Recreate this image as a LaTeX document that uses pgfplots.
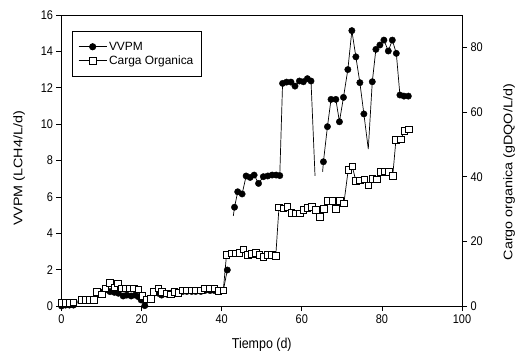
\documentclass[border=0pt]{standalone}
\usepackage{pgfplots}
\pgfplotsset{compat=1.18}
\usepackage{fontspec}
\setmainfont{Liberation Sans}

\pgfplotsset{
  common/.style={
    at={(0bp,0bp)}, anchor=south west,
    scale only axis, width=400.5bp, height=291bp,
    xmin=0, xmax=100,
    tick align=outside,
    major tick length=5bp,
    tick style={black, line width=0.7bp},
    axis line style={black, line width=0.8bp},
    /pgf/number format/assume math mode=true,
    tick label style={font=\fontsize{11}{13}\selectfont, yscale=1.15},
    label style={font=\fontsize{12.5}{14}\selectfont},
  }
}

\begin{document}
\begin{tikzpicture}[x=1bp,y=1bp]
\useasboundingbox (-61.5bp,-48bp) rectangle (454.5bp,306bp);

\begin{axis}[common,
  ymin=0, ymax=16,
  xtick={0,20,40,60,80,100},
  ytick={0,2,4,6,8,10,12,14,16},
  xtick pos=bottom, ytick pos=left,
  xlabel={Tiempo (d)},
  ylabel={VVPM (LCH4/L/d)},
  x label style={at={(axis description cs:0.5,-0.134)}, anchor=center, yscale=1.15},
  y label style={at={(axis description cs:-0.106,0.473)}, anchor=center, xscale=1.15},
]
% VVPM line (with unmarked end points and gaps)
\addplot[black, line width=0.7bp, no marks, unbounded coords=jump, forget plot] coordinates {
(0,0.0) (1,0.05) (2,0.05) (3,0.05) (5.0,0.3) (6.0,0.3) (7.0,0.3) (8.1,0.3)
(8.8,0.70) (10.0,0.75) (10.9,0.88) (12.1,0.79) (13.2,0.75) (14.2,0.70) (15.4,0.55)
(16.3,0.60) (17.4,0.55) (18.4,0.60) (19.2,0.51) (19.9,0.33) (20.8,0.02) (22.5,0.42)
(24.2,0.70) (25.0,0.60) (26.3,0.65) (27.3,0.70) (28.2,0.75) (29.2,0.75) (30.3,0.80)
(31.3,0.80) (32.5,0.80) (33.5,0.80) (34.8,0.80) (35.8,0.85) (37.1,0.85) (38.2,0.85)
(39.2,0.80) (40.4,0.85) (41.4,1.98) (42.2,nan)
(42.9,4.95) (43.2,5.43) (44.0,6.28) (45.1,6.16) (46.1,7.15) (47.1,7.07) (48.1,7.20)
(49.2,6.74) (50.4,7.11) (51.5,7.15) (52.6,7.20) (53.6,7.20) (54.5,7.17) (55.2,12.24)
(56.2,12.31) (57.3,12.31) (58.3,12.09) (59.4,12.37) (60.4,12.33) (61.4,12.50) (62.3,12.37)
(63.3,7.16) (64.2,nan)
(65.2,7.38) (65.4,7.93) (66.4,9.86) (67.3,11.36) (68.5,11.36) (69.4,10.13) (70.4,11.47)
(71.5,13.00) (72.5,15.14) (73.5,13.70) (74.5,12.28) (75.5,10.56) (76.6,8.63) (77.6,12.33)
(78.5,14.11) (79.5,14.35) (80.5,14.62) (81.6,14.02) (82.6,14.62) (83.6,13.89) (84.5,11.60)
(85.5,11.54) (86.6,11.54)
};
% VVPM markers
\addplot[black, only marks, mark=*, mark size=3.2bp, forget plot] coordinates {
(0,0.0) (1,0.05) (2,0.05) (3,0.05) (5.0,0.3) (6.0,0.3) (7.0,0.3) (8.1,0.3)
(8.8,0.70) (10.0,0.75) (10.9,0.88) (12.1,0.79) (13.2,0.75) (14.2,0.70) (15.4,0.55)
(16.3,0.60) (17.4,0.55) (18.4,0.60) (19.2,0.51) (19.9,0.33) (20.8,0.02) (22.5,0.42)
(24.2,0.70) (25.0,0.60) (26.3,0.65) (27.3,0.70) (28.2,0.75) (29.2,0.75) (30.3,0.80)
(31.3,0.80) (32.5,0.80) (33.5,0.80) (34.8,0.80) (35.8,0.85) (37.1,0.85) (38.2,0.85)
(39.2,0.80) (40.4,0.85) (41.4,1.98)
(43.2,5.43) (44.0,6.28) (45.1,6.16) (46.1,7.15) (47.1,7.07) (48.1,7.20)
(49.2,6.74) (50.4,7.11) (51.5,7.15) (52.6,7.20) (53.6,7.20) (54.5,7.17) (55.2,12.24)
(56.2,12.31) (57.3,12.31) (58.3,12.09) (59.4,12.37) (60.4,12.33) (61.4,12.50) (62.3,12.37)
(65.4,7.93) (66.4,9.86) (67.3,11.36) (68.5,11.36) (69.4,10.13) (70.4,11.47)
(71.5,13.00) (72.5,15.14) (73.5,13.70) (74.5,12.28) (75.5,10.56) (77.6,12.33)
(78.5,14.11) (79.5,14.35) (80.5,14.62) (81.6,14.02) (82.6,14.62) (83.6,13.89) (84.5,11.60)
(85.5,11.54) (86.6,11.54)
};
\end{axis}

\begin{axis}[common,
  ymin=0, ymax=90,
  ytick={0,20,40,60,80},
  axis x line=none,
  axis y line*=right,
  ylabel={Cargo organica (gDQO/L/d)},
  y label style={at={(axis description cs:1.118,0.46)}, anchor=center, xscale=1.15},
  legend style={at={(0.026,0.945)}, anchor=north west, draw=black, line width=0.8bp,
    font=\fontsize{12}{13.5}\selectfont, inner xsep=6bp, inner ysep=8.5bp,
    row sep=0bp, cells={anchor=west}},
  legend cell align=left,
  legend image code/.code={\draw[mark repeat=2,mark phase=2,#1] plot coordinates {(0bp,0bp)(14bp,0bp)(28bp,0bp)};},
]
\addlegendimage{black, line width=0.7bp, mark=*, mark size=3.2bp}
\addlegendentry{VVPM}
\addplot[black, line width=0.7bp, mark=square*, mark size=3.3bp, mark options={fill=white, line width=0.7bp}] coordinates {
(0,1.0) (1,1.0) (2,1.0) (3,1.1) (5.0,1.9) (6.0,1.9) (7.0,1.9) (8.1,1.9)
(8.8,4.4) (10.0,3.6) (10.9,5.5) (12.1,7.2) (13.2,5.8) (14.0,7.0) (15.0,5.5) (16.0,5.5)
(17.1,5.5) (18.1,5.5) (19.2,5.2) (20.2,3.2) (21.3,2.1) (22.3,2.3) (22.9,4.4) (24.2,5.5)
(25.0,4.4) (26.3,3.9) (27.3,3.6) (28.2,4.4) (29.2,4.1) (30.3,4.9) (31.3,4.9) (32.5,4.9)
(33.5,4.9) (34.8,4.9) (35.8,5.5) (37.1,5.5) (38.2,5.5) (39.2,4.7) (40.4,4.9)
(41.2,15.8) (42.5,16.3) (43.5,16.3) (44.4,16.5) (45.4,17.5) (46.5,15.8) (47.6,16.1)
(48.6,16.5) (49.4,15.8) (50.4,15.2) (51.4,15.8) (52.5,15.8) (53.5,15.5)
(54.3,30.5) (55.4,30.2) (56.4,30.6) (57.4,28.8) (58.5,28.6) (59.5,28.6) (60.4,29.8)
(61.4,30.3) (62.5,30.6) (63.5,29.8) (64.5,27.6) (65.5,30.0) (66.5,32.5) (67.6,32.6)
(68.5,30.0) (69.5,32.5) (70.5,31.7) (71.6,42.2) (72.6,43.2) (73.5,38.7) (74.5,38.9)
(75.6,39.2) (76.6,37.3) (77.6,39.4) (78.7,39.2) (79.7,41.4) (80.6,41.7) (81.8,41.4)
(82.7,40.2) (83.5,51.3) (84.7,51.5) (85.6,54.2) (86.8,54.6)
};
\addlegendentry{Carga Organica}
\end{axis}
\end{tikzpicture}
\end{document}
